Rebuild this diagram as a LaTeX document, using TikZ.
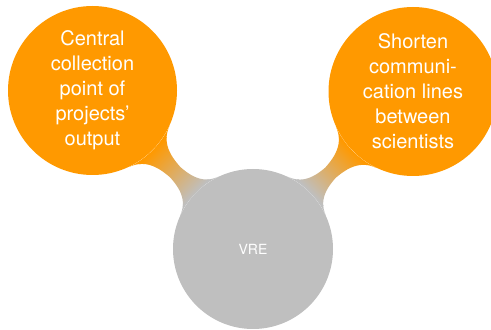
\documentclass[tikz,border=0pt]{standalone}
\usepackage{fontspec}
\setmainfont{TeX Gyre Heros}
\usetikzlibrary{mindmap,backgrounds}
\definecolor{orng}{RGB}{255,153,0}
\definecolor{gry}{RGB}{191,191,191}
\begin{document}
\begin{tikzpicture}[x=1pt,y=1pt,
  bubble/.style={circle, fill=orng, minimum size=169pt, inner sep=0pt, text=white, align=center, font=\fontsize{20}{25}\selectfont},
  rootc/.style={circle, fill=gry, minimum size=160pt, inner sep=0pt, text=white, font=\fontsize{14}{17}\selectfont},
  bar/.style={line width=14pt}]
\useasboundingbox (0,0) rectangle (491,330);
\node[rootc] (vre) at (253,81) {VRE};
\node[bubble] (l) at (92.5,239.5) {Central\\collection\\point of\\projects'\\output};
\node[bubble] (r) at (413,238.5) {Shorten\\communi-\\cation lines\\between\\scientists};
\begin{scope}[on background layer]
\path[bar] (vre) to[circle connection bar switch color=from (gry) to (orng)] (l);
\path[bar] (vre) to[circle connection bar switch color=from (gry) to (orng)] (r);
\end{scope}
\end{tikzpicture}
\end{document}
